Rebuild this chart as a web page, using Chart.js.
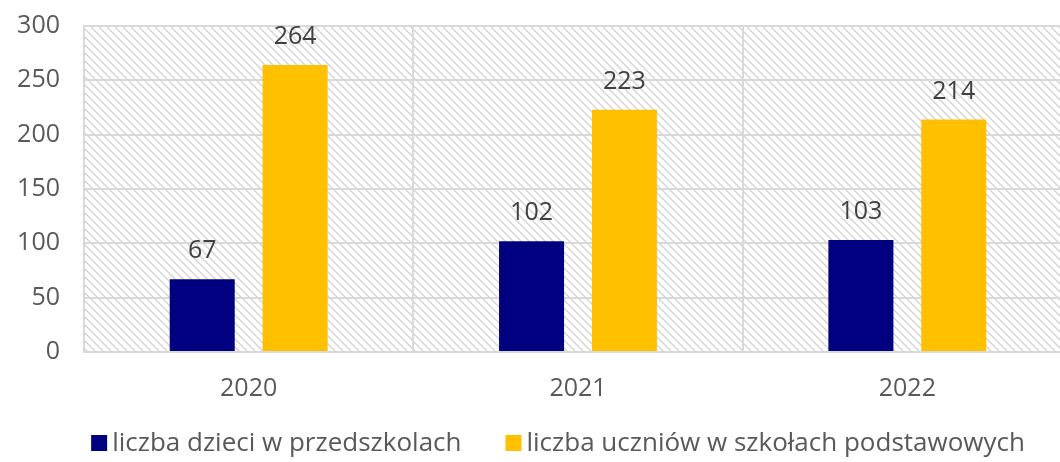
<!DOCTYPE html>
<html>
<head>
<meta charset="utf-8">
<script src="https://cdn.jsdelivr.net/npm/chart.js@4/dist/chart.umd.min.js"></script>
<style>
  html, body { margin: 0; padding: 0; background: #fff; overflow: hidden; }
  #wrap { width: 1072px; height: 462px; position: relative; }
</style>
</head>
<body>
<div id="wrap"><canvas id="barChart"></canvas></div>
<script>
    // data
    const years = ['2020', '2021', '2022'];
    const preschool = [67, 102, 103];
    const primary = [264, 223, 214];
    const seriesNames = ['liczba dzieci w przedszkolach', 'liczba uczniów w szkołach podstawowych'];
    const seriesColors = ['#000080', '#FFC000'];

    const FONT = '"Open Sans", "Noto Sans", sans-serif';

    // diagonal hatch for the plot background
    function makeHatch() {
        const c = document.createElement('canvas');
        c.width = 8;
        c.height = 8;
        const g = c.getContext('2d');
        g.strokeStyle = '#d4d4d4';
        g.lineWidth = 1.4;
        g.beginPath();
        g.moveTo(-2, -2); g.lineTo(10, 10);
        g.moveTo(-2, 6); g.lineTo(2, 10);
        g.moveTo(6, -2); g.lineTo(10, 2);
        g.stroke();
        return c;
    }

    const hatchBg = {
        id: 'hatchBg',
        beforeDraw(chart) {
            const { ctx, chartArea: a } = chart;
            ctx.save();
            ctx.fillStyle = ctx.createPattern(makeHatch(), 'repeat');
            ctx.fillRect(a.left, a.top, a.right - a.left, a.bottom - a.top);
            ctx.restore();
        }
    };

    const valueLabels = {
        id: 'valueLabels',
        afterDatasetsDraw(chart) {
            const ctx = chart.ctx;
            ctx.save();
            ctx.font = '25px ' + FONT;
            ctx.fillStyle = '#404040';
            ctx.textAlign = 'center';
            ctx.textBaseline = 'middle';
            chart.data.datasets.forEach((ds, i) => {
                chart.getDatasetMeta(i).data.forEach((bar, j) => {
                    ctx.fillText(ds.data[j], bar.x, bar.y - 28);
                });
            });
            ctx.restore();
        }
    };

    // legend drawn under the axis, Excel style (small gap box->text)
    const bottomLegend = {
        id: 'bottomLegend',
        afterDraw(chart) {
            const ctx = chart.ctx;
            ctx.save();
            ctx.font = '26px ' + FONT;
            ctx.textBaseline = 'middle';
            const items = chart.data.datasets.map(ds => ({
                text: ds.label, color: ds.backgroundColor, w: ctx.measureText(ds.label).width
            }));
            const box = 16, gapText = 5, gapItem = 44;
            let total = 0;
            items.forEach((it, i) => { total += box + gapText + it.w + (i ? gapItem : 0); });
            let x = 558 - total / 2;
            const y = 443;
            items.forEach(it => {
                ctx.fillStyle = it.color;
                ctx.fillRect(x, y - box / 2, box, box);
                ctx.fillStyle = '#595959';
                ctx.fillText(it.text, x + box + gapText, y + 1);
                x += box + gapText + it.w + gapItem;
            });
            ctx.restore();
        }
    };

    const barctx = document.getElementById('barChart');
    new Chart(barctx, {
        type: 'bar',
        data: {
            labels: years,
            datasets: [{
                label: seriesNames[0],
                data: preschool,
                backgroundColor: seriesColors[0],
                borderWidth: 0
            }, {
                label: seriesNames[1],
                data: primary,
                backgroundColor: seriesColors[1],
                borderWidth: 0
            }]
        },
        options: {
            responsive: true,
            maintainAspectRatio: false,
            animation: false,
            categoryPercentage: 0.564,
            barPercentage: 0.7,
            layout: { padding: { top: 26, left: 0, right: 0, bottom: 59 } },
            plugins: {
                tooltip: { enabled: false },
                legend: { display: false }
            },
            scales: {
                y: {
                    min: 0,
                    max: 300,
                    afterFit(s) {
                        s.width = 84;
                        s.paddingTop = 0;
                        s.paddingBottom = 0;
                    },
                    ticks: {
                        stepSize: 50,
                        color: '#595959',
                        font: { family: FONT, size: 25 },
                        padding: 24
                    },
                    grid: { color: '#d9d9d9', lineWidth: 2, drawTicks: false },
                    border: { color: '#d9d9d9', width: 2 }
                },
                x: {
                    afterFit(s) {
                        s.height = 51;
                        s.paddingLeft = 0;
                        s.paddingRight = 0;
                    },
                    ticks: {
                        color: '#595959',
                        font: { family: FONT, size: 25 },
                        padding: 22
                    },
                    grid: { color: '#d9d9d9', lineWidth: 2, offset: true, drawTicks: false },
                    border: { color: '#d9d9d9', width: 2 }
                }
            }
        },
        plugins: [hatchBg, valueLabels, bottomLegend]
    });
</script>
</body>
</html>
